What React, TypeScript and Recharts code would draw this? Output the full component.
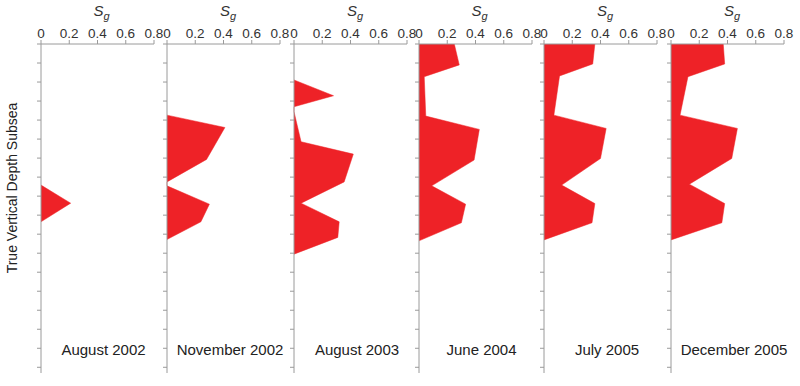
import React from "react";
import { Area, AreaChart, XAxis, YAxis } from "recharts";

// survey dates (one panel each)
const surveys = [
  "August 2002",
  "November 2002",
  "August 2003",
  "June 2004",
  "July 2005",
  "December 2005",
];

// depth ticks on the vertical axis (arbitrary units, 1 per tick)
const depthTicks = [0, 1, 2, 3, 4, 5, 6, 7, 8, 9, 10, 11, 12, 13, 14, 15, 16, 17];
const sgTicks = [0, 0.2, 0.4, 0.6, 0.8];

// gas saturation profiles, depth vs Sg
const aug2002Depth = [7.42, 8.37, 9.35];
const aug2002Sg = [0, 0.21, 0];

const nov2002Depth = [3.74, 4.39, 6.07, 7.25, 7.46, 8.42, 9.35, 10.28];
const nov2002Sg = [0, 0.41, 0.28, 0, 0, 0.3, 0.24, 0];

const aug2003Depth = [1.89, 2.72, 3.3, 3.56, 5.14, 5.79, 7.25, 8.37, 9.35, 10.17, 11.05];
const aug2003Sg = [0, 0.28, 0, 0, 0.05, 0.42, 0.355, 0.05, 0.32, 0.31, 0];

const jun2004Depth = [0, 1.1, 1.72, 3.79, 4.49, 6.1, 7.46, 8.42, 9.4, 10.35];
const jun2004Sg = [0.25, 0.285, 0.037, 0.048, 0.427, 0.39, 0.09, 0.33, 0.3, 0];

const jul2005Depth = [0, 1.05, 1.68, 3.74, 4.44, 6.02, 7.42, 8.39, 9.4, 10.3];
const jul2005Sg = [0.36, 0.345, 0.11, 0.07, 0.44, 0.4, 0.125, 0.36, 0.34, 0];

const dec2005Depth = [0, 1.05, 1.72, 3.74, 4.44, 6.02, 7.37, 8.39, 9.4, 10.3];
const dec2005Sg = [0.37, 0.38, 0.12, 0.064, 0.47, 0.43, 0.13, 0.38, 0.36, 0];

const profiles = [
  [aug2002Depth, aug2002Sg],
  [nov2002Depth, nov2002Sg],
  [aug2003Depth, aug2003Sg],
  [jun2004Depth, jun2004Sg],
  [jul2005Depth, jul2005Sg],
  [dec2005Depth, dec2005Sg],
];

// left edge (Sg = 0) of each panel, px
const panelX = [40.5, 167, 294, 418.5, 544, 671];

const FONT = "'Liberation Sans', Arial, Helvetica, sans-serif";
const AXIS = "#9a9a9a";
const RED = "#ee2227";

function Panel({ index }: { index: number }) {
  const [depth, sg] = profiles[index];
  const rows = depth.map((d, i) => ({ depth: d, sg: sg[i] }));
  const x0 = panelX[index];
  return (
    <>
      <div style={{ position: "absolute", left: x0 - 10, top: 0 }}>
        <AreaChart
          width={135}
          height={373}
          layout="vertical"
          data={rows}
          margin={{ top: 0, right: 12, bottom: 0, left: 0 }}
        >
          <XAxis
            type="number"
            orientation="top"
            domain={[0, 0.8]}
            ticks={sgTicks}
            height={44}
            tickSize={4}
            tickMargin={2}
            stroke={AXIS}
            tick={{ fill: "#333", fontSize: 13.5, fontFamily: FONT }}
            tickFormatter={(v) => String(v)}
            interval={0}
          />
          <YAxis
            type="number"
            dataKey="depth"
            domain={[0, 17.3]}
            ticks={depthTicks}
            width={10}
            tickSize={4}
            tickMargin={0}
            tickFormatter={() => ""}
            stroke={AXIS}
            interval={0}
          />
          <Area
            type="linear"
            dataKey="sg"
            fill={RED}
            fillOpacity={1}
            stroke={RED}
            strokeWidth={0.5}
            isAnimationActive={false}
          />
        </AreaChart>
      </div>
      {/* Sg axis title */}
      <div
        style={{
          position: "absolute",
          left: x0 + 61,
          top: 2,
          transform: "translateX(-50%)",
          fontFamily: FONT,
          fontSize: 15,
          fontStyle: "italic",
          color: "#333",
          whiteSpace: "nowrap",
        }}
      >
        S<sub style={{ fontSize: 11 }}>g</sub>
      </div>
      {/* survey date */}
      <div
        style={{
          position: "absolute",
          left: x0 + 63,
          top: 341,
          transform: "translateX(-50%)",
          fontFamily: FONT,
          fontSize: 15,
          color: "#222",
          whiteSpace: "nowrap",
        }}
      >
        {surveys[index]}
      </div>
    </>
  );
}

export default function App() {
  return (
    <div
      style={{
        position: "absolute",
        left: 0,
        top: 0,
        width: 800,
        height: 386,
        background: "#fff",
        overflow: "hidden",
      }}
    >
      {surveys.map((_, i) => (
        <Panel key={i} index={i} />
      ))}
      <div
        style={{
          position: "absolute",
          left: 12,
          top: 188,
          transform: "translate(-50%, -50%) rotate(-90deg)",
          fontFamily: FONT,
          fontSize: 14,
          color: "#222",
          whiteSpace: "nowrap",
        }}
      >
        True Vertical Depth Subsea
      </div>
    </div>
  );
}
